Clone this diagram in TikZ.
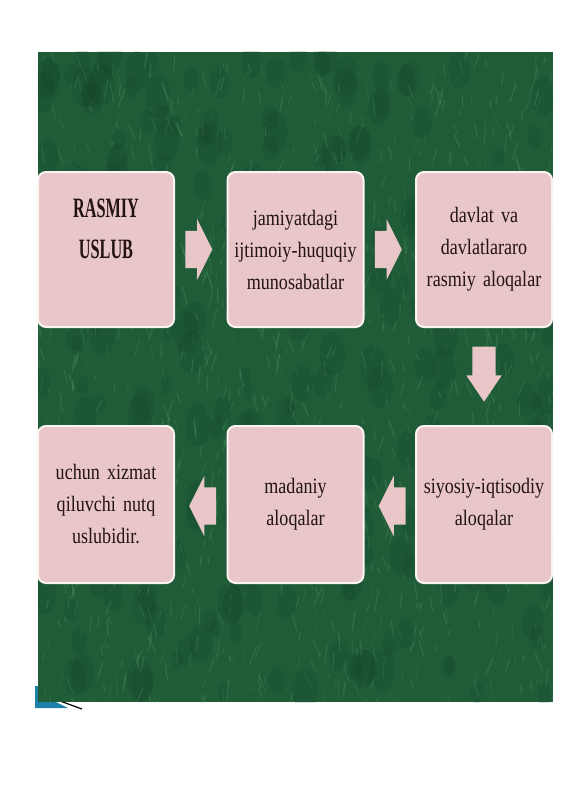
\documentclass[tikz,border=0pt]{standalone}
\usepackage{fontspec}
\setmainfont{Liberation Serif}
\newfontfamily\slidefont[FakeStretch=0.82,WordSpace=0.75]{Liberation Serif}
\newfontfamily\titlefont[FakeStretch=0.58]{Liberation Serif}
\usetikzlibrary{calc,shapes.arrows,positioning}
\definecolor{boxpink}{RGB}{233,198,199}
\definecolor{boxedge}{RGB}{252,243,243}
\definecolor{felt}{RGB}{32,92,56}
\definecolor{feltdark}{RGB}{12,52,28}
\definecolor{feltlight}{RGB}{110,180,130}
\definecolor{inktext}{RGB}{34,20,20}
\definecolor{cornerteal}{RGB}{28,128,168}
\tikzset{
    stage/.style={
    rectangle,rounded corners=8pt,draw=boxedge,line width=2pt,fill=boxpink,
    minimum width=136pt,minimum height=155pt,text width=130pt,align=center,
    inner sep=0pt,text=inktext,font={\slidefont\fontsize{22pt}{32pt}\selectfont}
    },
    lowstage/.style={
    stage,minimum height=157pt
    },
    titlestage/.style={
    stage,font={\titlefont\bfseries\fontsize{28pt}{41pt}\selectfont}
    },
    flowarrow/.style={
    single arrow,fill=boxpink,draw=none,inner xsep=0pt,inner ysep=18.5pt,
    minimum height=27pt,anchor=tip,
    single arrow head extend=11.5pt,single arrow tip angle=127,
    single arrow head indent=0pt
    },
    backarrow/.style={
    flowarrow,shape border rotate=180
    },
    downarrow/.style={
    flowarrow,rotate=-90,minimum height=55pt,inner ysep=11.5pt,
    single arrow head extend=6pt,single arrow tip angle=68
    },
}
\begin{document}
\begin{tikzpicture}[x=1pt,y=-1pt]
  \useasboundingbox (0,0) rectangle (565,800);
  \fill[cornerteal] (35,686) -- (40,686) -- (40,702) -- (56,702) -- (68,708) -- (35,708) -- cycle;
  \draw[black,line width=1.2pt] (60,701) -- (82,709);
  \fill[felt] (38,52) rectangle (553,702);
  \begin{scope}
    \clip (38,52) rectangle (553,702);
    \pgfmathsetseed{42}
    \foreach \k in {1,...,260}{
      \pgfmathsetmacro{\sx}{38+515*rnd}
      \pgfmathsetmacro{\sy}{52+650*rnd}
      \pgfmathsetmacro{\sr}{8+14*rnd}
      \fill[feltdark,opacity=0.14] (\sx,\sy) ellipse ({\sr*0.6} and \sr);
    }
    \foreach \k in {1,...,1100}{
      \pgfmathsetmacro{\sx}{38+515*rnd}
      \pgfmathsetmacro{\sy}{52+650*rnd}
      \pgfmathsetmacro{\sl}{4+16*rnd}
      \pgfmathsetmacro{\sa}{65+50*rnd}
      \pgfmathsetmacro{\sw}{0.4+1.1*rnd}
      \draw[feltlight,opacity=0.2,line width=\sw pt] (\sx,\sy) -- ++(\sa:\sl);
    }
  \end{scope}

  \node[titlestage] (RASMIY) at (106,249.5) {RASMIY\\USLUB\\\mbox{}};
  \node[stage] (JAMIYAT) at (295.5,249.5) {jamiyatdagi\\ijtimoiy-huquqiy\\munosabatlar};
  \node[stage] (DAVLAT) at (484,249.5) {davlat va\\davlatlararo\\rasmiy aloqalar};
  \node[lowstage] (SIYOSIY) at (484,504.5) {siyosiy-iqtisodiy\\aloqalar};
  \node[lowstage] (MADANIY) at (295.5,504.5) {madaniy\\aloqalar};
  \node[lowstage] (UCHUN) at (106,504.5) {uchun xizmat\\qiluvchi nutq\\uslubidir.};

  \node[flowarrow] (A1) at ($(JAMIYAT.west)+(-14,0)$) {};
  \node[flowarrow] (A2) at ($(DAVLAT.west)+(-13,0)$) {};
  \node[downarrow] (A3) at ($(SIYOSIY.north)+(0,-23)$) {};
  \node[backarrow] (A4) at ($(MADANIY.east)+(14,1.5)$) {};
  \node[backarrow] (A5) at ($(UCHUN.east)+(14,1.5)$) {};
\end{tikzpicture}
\end{document}
